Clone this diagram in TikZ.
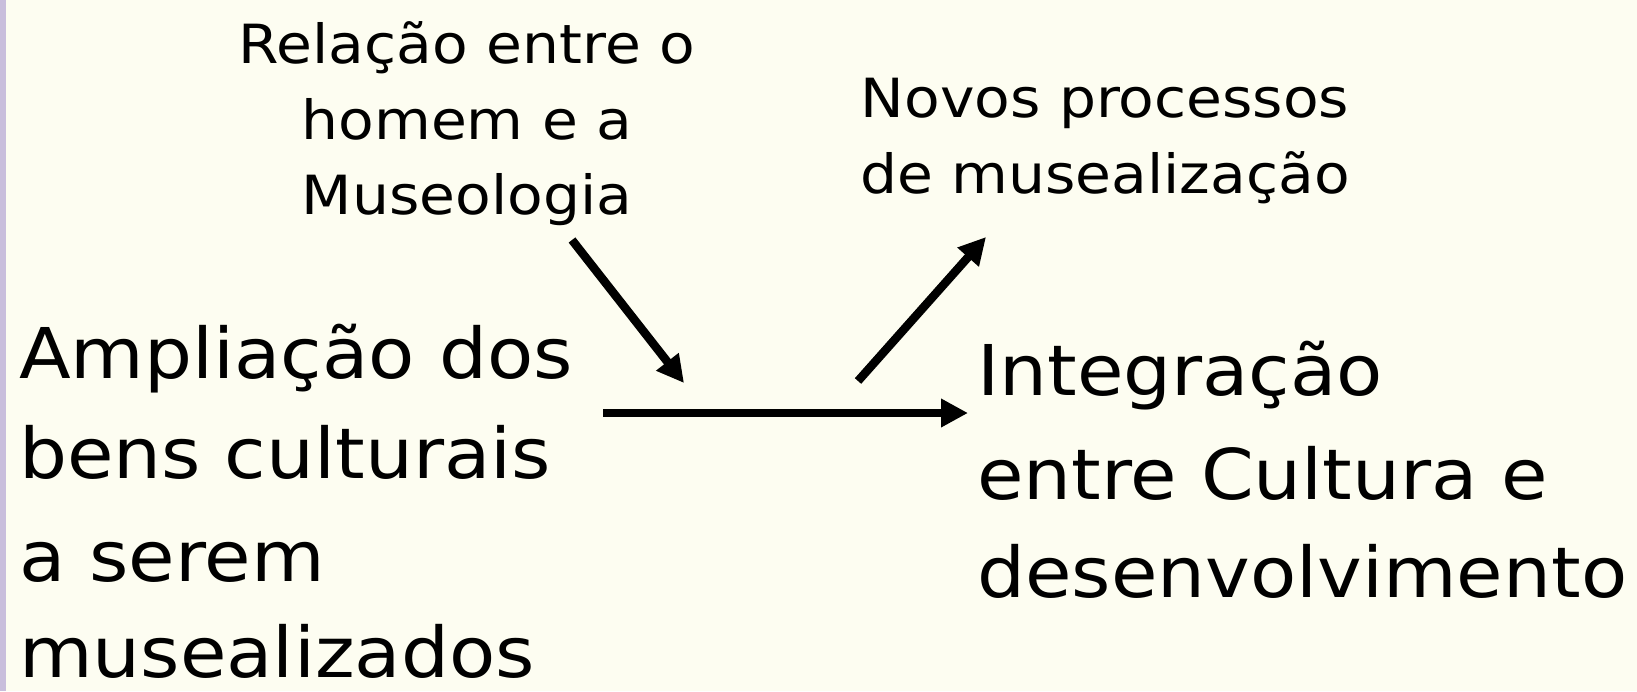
\documentclass[tikz,border=0pt]{standalone}
\usepackage{fontspec}
\setmainfont[FakeStretch=1.08]{DejaVu Sans}
\usetikzlibrary{arrows.meta}
\definecolor{bgcream}{HTML}{FDFDF1}
\definecolor{lavender}{HTML}{C9BEDC}
\tikzset{
  bigtxt/.style={anchor=base west, inner sep=0pt, font=\fontsize{70}{70}\selectfont},
  smalltxt/.style={anchor=base, inner sep=0pt, font=\fontsize{54}{54}\selectfont},
  arr/.style={line width=8.5pt, -{Triangle[length=27pt,width=27pt]}}
}
\begin{document}
\begin{tikzpicture}[x=1pt,y=-1pt]
\fill[bgcream] (0,0) rectangle (1637,691);
\useasboundingbox (0,0) rectangle (1637,691);
\fill[lavender] (0,0) rectangle (6,691);
% left block
\node[bigtxt] (l1) at (19,378) {Ampliação dos};
\node[bigtxt] (l2) at (19,478) {bens culturais};
\node[bigtxt] (l3) at (19,581) {a serem};
\node[bigtxt] (l4) at (19,677) {musealizados};
% right block
\node[bigtxt] (r1) at (977,395) {Integração};
\node[bigtxt] (r2) at (977,499) {entre Cultura e};
\node[bigtxt] (r3) at (977,597) {desenvolvimento};
% top left
\node[smalltxt] (t1) at (467,63) {Relação entre o};
\node[smalltxt] (t2) at (467,139) {homem e a};
\node[smalltxt] (t3) at (467,214) {Museologia};
% top right
\node[smalltxt] (n1) at (1105,117) {Novos processos};
\node[smalltxt] (n2) at (1105,193) {de musealização};
% arrows
\coordinate (hs) at (603,413);
\coordinate (he) at (968,413);
\coordinate (ds) at (572,240);
\coordinate (de) at (684,383);
\coordinate (us) at (858,381);
\coordinate (ue) at (986,237);
\draw[arr] (hs) -- (he);
\draw[arr] (ds) -- (de);
\draw[arr] (us) -- (ue);
\end{tikzpicture}
\end{document}
